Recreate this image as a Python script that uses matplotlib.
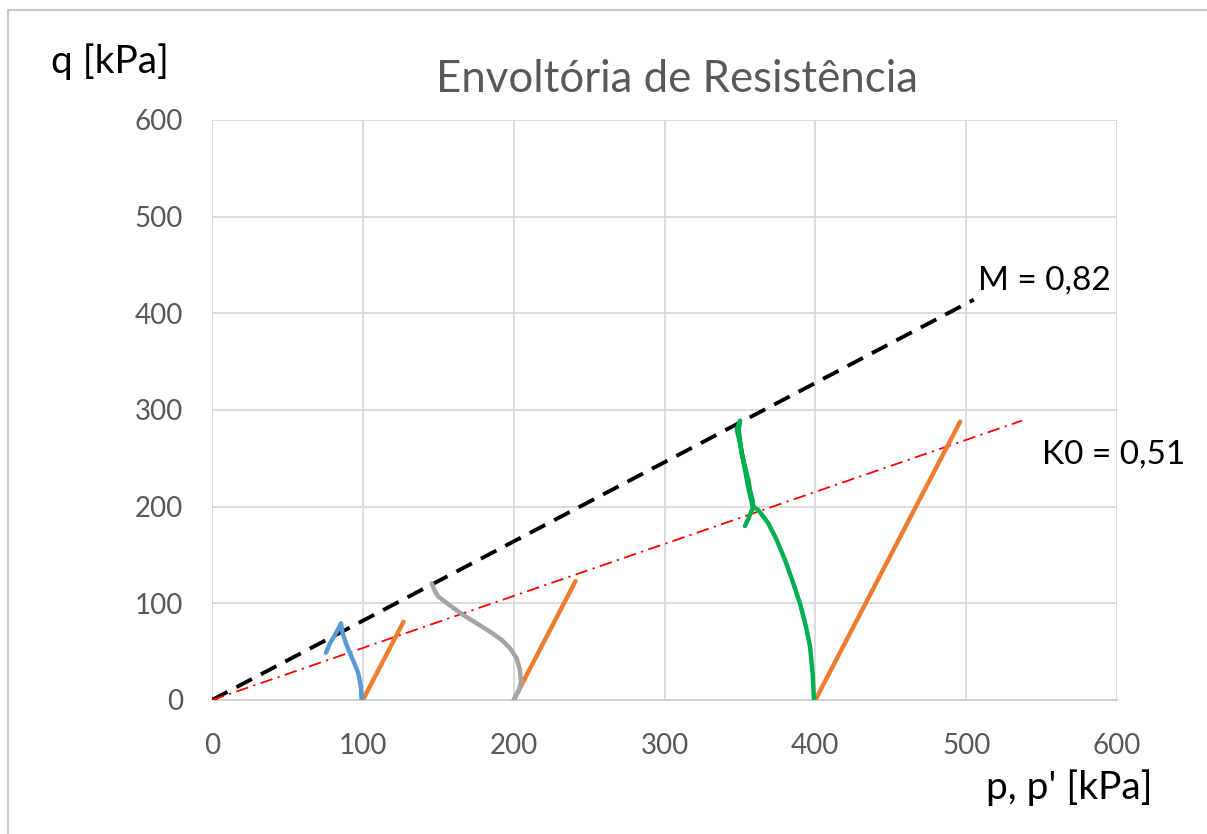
import matplotlib
matplotlib.use("Agg")
import matplotlib.pyplot as plt
from matplotlib.lines import Line2D

# Effective stress paths (p', q) in kPa
p_100 = [99.2, 98.7, 97.0, 94.4, 91.5, 88.8, 86.6, 85.5, 84.4, 81.5, 78.2, 75.6]
q_100 = [0.0, 13.8, 27.6, 37.9, 48.3, 58.6, 69.0, 79.3, 75.9, 67.2, 58.6, 48.9]

p_200 = [200.0, 203.5, 204.9, 204.2, 202.0, 197.6, 192.1, 184.3, 175.5, 166.6,
         158.9, 154.5, 150.1, 147.9, 145.7]
q_200 = [0.0, 10.0, 18.9, 31.0, 43.1, 53.5, 62.1, 70.7, 79.3, 87.9,
         96.5, 101.7, 106.9, 112.0, 120.7]

p_400 = [399.1, 398.2, 396.5, 393.8, 389.8, 385.4, 379.9, 374.4, 368.8, 362.2,
         358.9, 358.4, 356.7, 355.6, 353.4, 351.2, 349.6, 347.9, 349.0, 350.1,
         349.2, 350.6, 352.6, 354.6, 356.2, 357.6, 358.6, 356.0, 353.4]
q_400 = [0.0, 27.6, 55.2, 75.9, 100.0, 120.7, 144.8, 165.5, 182.8, 196.5,
         200.0, 206.9, 217.2, 227.6, 241.4, 255.2, 269.0, 279.3, 284.5, 288.9,
         280.0, 262.0, 244.0, 228.0, 215.0, 206.0, 199.0, 189.0, 180.0]

# Total stress paths (slope 3)
p_total = [[100, 127], [200, 241], [400, 496]]
q_total = [[0, 81], [0, 123], [0, 288]]

# Critical state line and K0 line
M = 0.82
p_csl = [0, 505]
k0_p = [0, 537]
k0_q = [0, 289]

W, H = 1207, 834
fig = plt.figure(figsize=(W / 100, H / 100), dpi=100)
fig.patch.set_facecolor("white")
# chart-area frame (left and top edges)
fig.lines.append(Line2D([7.5 / W, 7.5 / W, 1.0], [0.0, 1 - 9.5 / H, 1 - 9.5 / H],
                        transform=fig.transFigure, color="#BFBFBF", linewidth=1.2))

ax = fig.add_axes([212 / W, 1 - 700 / H, (1117 - 212) / W, (700 - 120) / H])
ax.set_xlim(0, 600)
ax.set_ylim(0, 600)
ax.set_xticks(range(0, 601, 100))
ax.set_yticks(range(0, 601, 100))
ax.grid(True, color="#D9D9D9", linewidth=1.3)
ax.set_axisbelow(True)
for s in ax.spines.values():
    s.set_visible(False)
ax.spines["bottom"].set_visible(True)
ax.spines["bottom"].set_color("#D0D0D0")
ax.spines["bottom"].set_linewidth(1.3)
ax.tick_params(length=0, labelsize=20, labelcolor="#595959")
ax.tick_params(axis="x", pad=24)
ax.tick_params(axis="y", pad=21)
for lab in ax.get_xticklabels() + ax.get_yticklabels():
    lab.set_family("Lato")

ax.plot(p_csl, [M * v for v in p_csl], color="black", linewidth=2.8,
        dashes=(4.5, 2.6), solid_capstyle="butt", zorder=3)
ax.plot(k0_p, k0_q, color="#FF0000", linewidth=1.3,
        dashes=(7, 3, 1.2, 3), zorder=3)

for pt, qt in zip(p_total, q_total):
    ax.plot(pt, qt, color="#ED7D31", linewidth=3.2, solid_capstyle="round", zorder=4)

ax.plot(p_100, q_100, color="#5B9BD5", linewidth=3.2, solid_capstyle="round", zorder=4)
ax.plot(p_200, q_200, color="#A5A5A5", linewidth=3.2, solid_capstyle="round", zorder=4)
ax.plot(p_400, q_400, color="#00B050", linewidth=3.2, solid_capstyle="round", zorder=4)

fig.text(677 / W, 1 - 80 / H, "Envoltória de Resistência", ha="center", va="center",
         fontsize=31.5, color="#595959", family="Lato")
fig.text(110 / W, 1 - 62 / H, "q [kPa]", ha="center", va="center",
         fontsize=28, color="black", family="Lato")
fig.text(1069 / W, 1 - 788 / H, "p, p' [kPa]", ha="center", va="center",
         fontsize=28, color="black", family="Lato")
fig.text(1044 / W, 1 - 281 / H, "M = 0,82", ha="center",
         va="center", fontsize=24, color="black", family="Lato")
fig.text(1114 / W, 1 - 455 / H, "K0 = 0,51", ha="center",
         va="center", fontsize=24, color="black", family="Lato")

fig.savefig("out.png", dpi=100)
